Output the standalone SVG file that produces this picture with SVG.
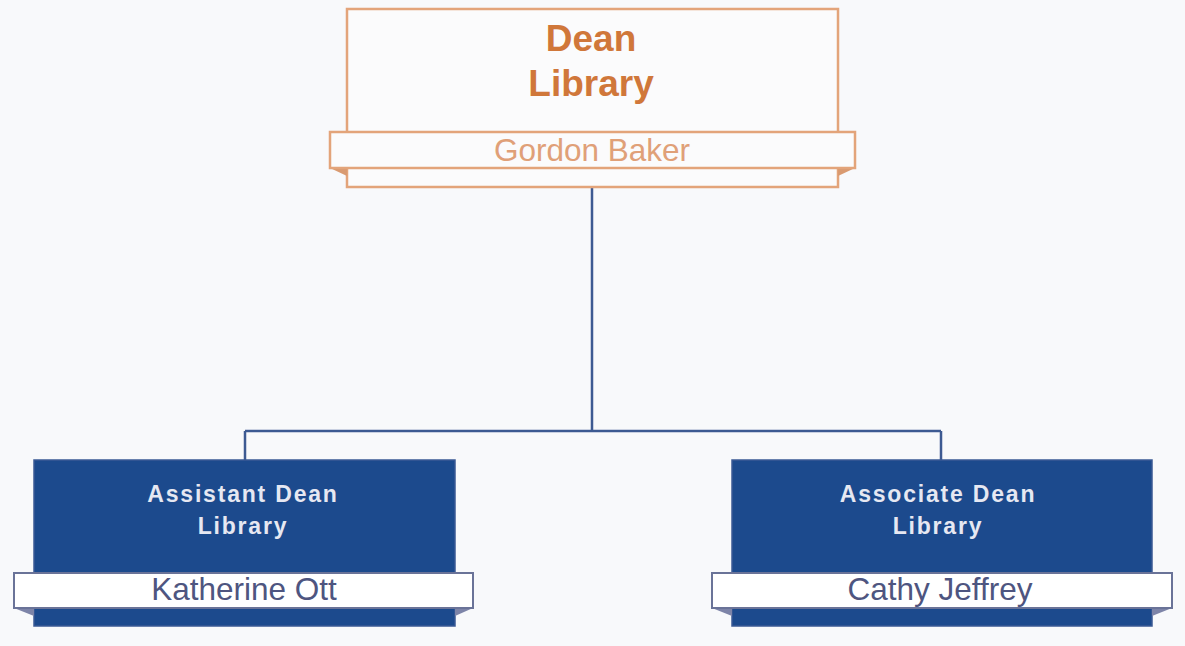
<svg xmlns="http://www.w3.org/2000/svg" width="1185" height="646" viewBox="0 0 1185 646">
<style>
.bg{fill:#f8f9fb}
.conn{fill:none;stroke:#3d5a92;stroke-width:2.5}
.obox{fill:#fbfbfc;stroke:#e3a47a;stroke-width:2.5}
.ofold{fill:#d99a70}
.otitle{font-family:Arial,"Liberation Sans",Helvetica,sans-serif;font-weight:bold;font-size:37px;fill:#d0773a;text-anchor:middle}
.oname{font-family:Arial,"Liberation Sans",Helvetica,sans-serif;font-size:31.5px;fill:#e0a078;text-anchor:middle}
.bbox{fill:#1c4a8d;stroke:#3a5a95;stroke-width:1.5}
.bband{fill:#ffffff;stroke:#6a7398;stroke-width:2}
.bfold{fill:#7d84a8}
.btitle{font-family:Arial,"Liberation Sans",Helvetica,sans-serif;font-weight:bold;font-size:23px;letter-spacing:1.8px;fill:#e6e8f2;text-anchor:middle}
.bname{font-family:Arial,"Liberation Sans",Helvetica,sans-serif;font-size:31.5px;fill:#4e5580;text-anchor:middle}
</style>
<rect class="bg" x="0" y="0" width="1185" height="646"/>
<g id="connectors">
<path class="conn" d="M592 188 V431 M245 431 H941 M245 431 V461 M941 431 V461"/>
</g>
<g id="dean">
<rect class="obox" x="347" y="9" width="491" height="178"/>
<polygon class="ofold" points="330,168 347,176 347,168"/>
<polygon class="ofold" points="855,168 838,176 838,168"/>
<rect class="obox" x="330" y="132" width="525" height="36"/>
<text class="otitle" x="591" y="51">Dean</text>
<text class="otitle" x="591" y="96">Library</text>
<text class="oname" x="592" y="161">Gordon Baker</text>
</g>
<g id="assistant">
<rect class="bbox" x="34" y="460" width="421" height="166"/>
<polygon class="bfold" points="14,608 34,616 34,608"/>
<polygon class="bfold" points="473,608 455,616 455,608"/>
<rect class="bband" x="14" y="573" width="459" height="35"/>
<text class="btitle" x="243" y="502">Assistant Dean</text>
<text class="btitle" x="243" y="534">Library</text>
<text class="bname" x="244" y="600">Katherine Ott</text>
</g>
<g id="associate">
<rect class="bbox" x="732" y="460" width="420" height="166"/>
<polygon class="bfold" points="712,608 732,616 732,608"/>
<polygon class="bfold" points="1172,608 1152,616 1152,608"/>
<rect class="bband" x="712" y="573" width="460" height="35"/>
<text class="btitle" x="938" y="502">Associate Dean</text>
<text class="btitle" x="938" y="534">Library</text>
<text class="bname" x="940" y="600">Cathy Jeffrey</text>
</g>
</svg>
